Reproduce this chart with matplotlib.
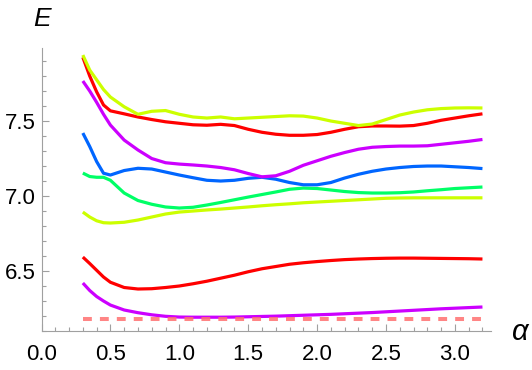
import numpy as np
import matplotlib.pyplot as plt
from matplotlib.ticker import MultipleLocator, FormatStrFormatter

plt.rcParams['font.family'] = ['Liberation Sans', 'DejaVu Sans']

# sample points along alpha
alpha = [0.3, 0.35, 0.4, 0.45, 0.5, 0.6, 0.7, 0.8, 0.9, 1.0, 1.1, 1.2, 1.3, 1.4,
         1.5, 1.6, 1.7, 1.8, 1.9, 2.0, 2.1, 2.2, 2.3, 2.4, 2.5, 2.6, 2.7, 2.8,
         2.9, 3.0, 3.1, 3.2]

yellow_top = [7.94, 7.84, 7.775, 7.71, 7.66, 7.595, 7.545, 7.565, 7.57, 7.545, 7.527, 7.52,
              7.527, 7.515, 7.52, 7.525, 7.53, 7.535, 7.533, 7.52, 7.50, 7.485, 7.47, 7.48,
              7.51, 7.54, 7.56, 7.575, 7.583, 7.587, 7.588, 7.587]
red_top = [7.925, 7.80, 7.695, 7.607, 7.568, 7.548, 7.527, 7.51, 7.495, 7.485, 7.475, 7.472,
           7.478, 7.47, 7.445, 7.425, 7.412, 7.405, 7.405, 7.41, 7.425, 7.445, 7.462, 7.467,
           7.467, 7.466, 7.47, 7.485, 7.505, 7.52, 7.535, 7.548]
magenta_top = [7.767, 7.70, 7.625, 7.545, 7.473, 7.373, 7.307, 7.25, 7.222, 7.213, 7.207, 7.20,
               7.19, 7.175, 7.15, 7.128, 7.135, 7.165, 7.205, 7.235, 7.265, 7.29, 7.312, 7.325,
               7.33, 7.333, 7.333, 7.335, 7.345, 7.355, 7.365, 7.377]
blue = [7.42, 7.33, 7.23, 7.152, 7.14, 7.17, 7.185, 7.18, 7.16, 7.14, 7.122, 7.105,
        7.10, 7.105, 7.118, 7.125, 7.112, 7.09, 7.075, 7.075, 7.09, 7.12, 7.145, 7.165,
        7.18, 7.19, 7.197, 7.20, 7.20, 7.195, 7.19, 7.183]
green = [7.153, 7.13, 7.125, 7.125, 7.105, 7.02, 6.97, 6.945, 6.927, 6.92, 6.925, 6.94,
         6.957, 6.975, 6.993, 7.01, 7.027, 7.045, 7.053, 7.05, 7.04, 7.03, 7.023, 7.02,
         7.02, 7.022, 7.027, 7.035, 7.042, 7.05, 7.055, 7.06]
yellow_low = [6.893, 6.86, 6.835, 6.822, 6.82, 6.825, 6.84, 6.86, 6.88, 6.893, 6.90, 6.907,
              6.913, 6.92, 6.927, 6.935, 6.942, 6.948, 6.955, 6.96, 6.965, 6.97, 6.975, 6.98,
              6.985, 6.987, 6.988, 6.988, 6.988, 6.988, 6.988, 6.988]
red_low = [6.593, 6.55, 6.505, 6.46, 6.425, 6.39, 6.38, 6.382, 6.39, 6.40, 6.415, 6.432,
           6.452, 6.472, 6.495, 6.515, 6.53, 6.545, 6.555, 6.563, 6.57, 6.576, 6.58, 6.583,
           6.585, 6.586, 6.586, 6.585, 6.584, 6.583, 6.582, 6.58]
magenta_low = [6.42, 6.37, 6.33, 6.30, 6.273, 6.24, 6.222, 6.208, 6.198, 6.193, 6.192, 6.192,
               6.192, 6.193, 6.195, 6.197, 6.199, 6.202, 6.205, 6.208, 6.211, 6.215, 6.219, 6.223,
               6.228, 6.233, 6.238, 6.243, 6.248, 6.252, 6.256, 6.26]
ground_level = 6.18

curves = [(magenta_low, '#cc00ff'), (red_low, '#ff0000'), (yellow_low, '#ccff00'),
          (green, '#00ff66'), (blue, '#0066ff'), (magenta_top, '#cc00ff'),
          (red_top, '#ff0000'), (yellow_top, '#ccff00')]

fig = plt.figure(figsize=(5.32, 3.70), dpi=100)
ax = fig.add_axes([41.5 / 532, 39 / 370, 449.5 / 532, 283 / 370])

for vals, col in curves:
    ax.plot(alpha, vals, color=col, lw=2.3, solid_capstyle='butt', solid_joinstyle='round')

ax.plot([alpha[0], alpha[-1]], [ground_level, ground_level], color='#ff7070', alpha=0.85,
        lw=2.9, dashes=(2.2, 2.0), dash_capstyle='butt')

ax.set_xlim(0, 3.262)
ax.set_ylim(6.1, 7.987)
for s in ['top', 'right']:
    ax.spines[s].set_visible(False)
for s in ['left', 'bottom']:
    ax.spines[s].set_color('#a0a0a0')
    ax.spines[s].set_linewidth(0.8)

ax.xaxis.set_major_locator(MultipleLocator(0.5))
ax.xaxis.set_minor_locator(MultipleLocator(0.1))
ax.yaxis.set_major_locator(MultipleLocator(0.5))
ax.yaxis.set_minor_locator(MultipleLocator(0.1))
ax.xaxis.set_major_formatter(FormatStrFormatter('%.1f'))
ax.yaxis.set_major_formatter(FormatStrFormatter('%.1f'))
ax.tick_params(which='both', direction='in', color='#a0a0a0', width=0.8, labelsize=16)
ax.tick_params(which='major', length=5)
ax.tick_params(which='minor', length=2.8)
ax.tick_params(axis='x', pad=9)
ax.tick_params(axis='y', pad=4)

fig.text(42.5 / 532, 1 - 19 / 370, 'E', fontsize=19, style='italic', ha='center', va='center')
fig.text(520 / 532, 1 - 332 / 370, 'α', fontsize=21, style='italic', ha='center', va='center')

fig.savefig('out.png', dpi=100)
